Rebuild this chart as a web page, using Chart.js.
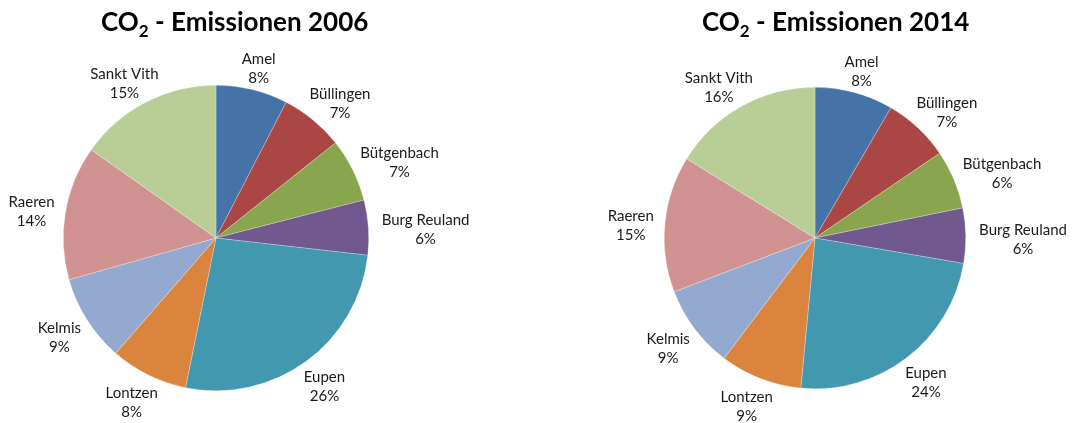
<!DOCTYPE html>
<html>
<head>
<meta charset="utf-8">
<script src="https://cdn.jsdelivr.net/npm/chart.js@4"></script>
<style>
  body { margin: 0; background: #fff; width: 1072px; height: 423px; overflow: hidden; position: relative; }
  .box { position: absolute; top: 0; width: 536px; height: 423px; }
  .title { position: absolute; top: 5px; margin: 0; font-family: Lato, sans-serif; font-weight: bold; font-size: 26px; color: #000; white-space: nowrap; }
  .title sub { font-size: 17px; vertical-align: -6px; line-height: 0; }
</style>
</head>
<body>
<div class="box" style="left:0"><canvas id="pie2006" width="536" height="423"></canvas></div>
<div class="box" style="left:536px"><canvas id="pie2014" width="536" height="423"></canvas></div>
<h2 class="title" id="t1" style="left:101px">CO<sub>2</sub> - Emissionen 2006</h2>
<h2 class="title" id="t2" style="left:702px">CO<sub>2</sub> - Emissionen 2014</h2>
<script>
// Gemeinden
const communes = ['Amel', 'Büllingen', 'Bütgenbach', 'Burg Reuland', 'Eupen', 'Lontzen', 'Kelmis', 'Raeren', 'Sankt Vith'];

// share of emissions in %
const values2006 = [7.6, 6.7, 6.7, 5.8, 26.4, 8.2, 9.2, 14.2, 15.2];
const values2014 = [8.4, 7.1, 6.3, 5.9, 23.8, 8.8, 8.9, 14.6, 16.2];

const sliceColors = ['#4572A7', '#AA4643', '#89A54E', '#71588F', '#4198AF', '#DB843D', '#93A9CF', '#D19392', '#B9CD96'];

// labels outside the pie: name + rounded percent
const outsideLabels = {
    id: 'outsideLabels',
    afterDatasetsDraw(chart) {
        const ctx = chart.ctx;
        const data = chart.data.datasets[0].data;
        const total = data.reduce((a, b) => a + b, 0);
        const meta = chart.getDatasetMeta(0);
        ctx.save();
        ctx.font = '15px Lato, sans-serif';
        ctx.fillStyle = '#1a1a1a';
        ctx.textAlign = 'center';
        ctx.textBaseline = 'middle';
        const lineH = 19;
        meta.data.forEach((arc, i) => {
            const mid = (arc.startAngle + arc.endAngle) / 2;
            const lines = [chart.data.labels[i], Math.round(data[i] / total * 100) + '%'];
            const w = Math.max(...lines.map(l => ctx.measureText(l).width));
            const h = lineH * 2;
            const r = arc.outerRadius + 9;
            const ax = arc.x + Math.cos(mid) * r;
            const ay = arc.y + Math.sin(mid) * r;
            const cx = ax + Math.cos(mid) * w * 0.55;
            const cy = ay + Math.sin(mid) * h * 0.45 + 4;
            ctx.fillText(lines[0], cx, cy - lineH / 2);
            ctx.fillText(lines[1], cx, cy + lineH / 2);
        });
        ctx.restore();
    }
};

function makePie(id, values, padding) {
    return new Chart(document.getElementById(id), {
        type: 'pie',
        data: {
            labels: communes,
            datasets: [{
                data: values,
                backgroundColor: sliceColors,
                borderColor: 'rgba(255,255,255,0.5)',
                borderWidth: 0.5
            }]
        },
        options: {
            responsive: false,
            animation: false,
            layout: { padding: padding },
            plugins: {
                legend: { display: false },
                tooltip: { enabled: false },
                title: { display: false }
            }
        },
        plugins: [outsideLabels]
    });
}

makePie('pie2006', values2006, { left: 63, right: 167, top: 85, bottom: 32 });
makePie('pie2014', values2014, { left: 128, right: 106, top: 87, bottom: 34 });
</script>
</body>
</html>
